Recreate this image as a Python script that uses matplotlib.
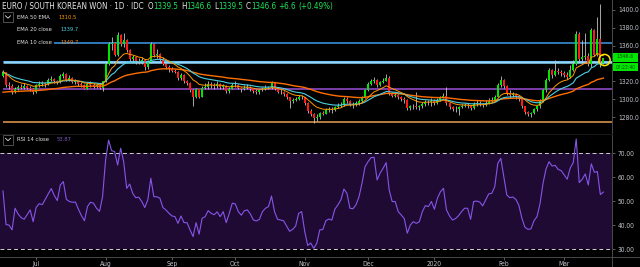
import numpy as np
import pandas as pd
import matplotlib
matplotlib.use("Agg")
import matplotlib.pyplot as plt
from matplotlib.patches import Rectangle, Circle
from matplotlib import font_manager as fm

_avail = {f.name for f in fm.fontManager.ttflist}
_cond = any(f.name == 'DejaVu Sans' and str(f.stretch) == 'condensed' for f in fm.fontManager.ttflist)
if 'Liberation Sans Narrow' in _avail:
    plt.rcParams['font.family'] = ['Liberation Sans Narrow', 'DejaVu Sans']
elif _cond:
    plt.rcParams['font.family'] = ['DejaVu Sans']
    plt.rcParams['font.stretch'] = 'condensed'
else:
    plt.rcParams['font.family'] = ['Roboto', 'DejaVu Sans']

# ---------------- data ----------------
dates = pd.bdate_range("2019-06-14", periods=200)
first_open = 1326.0
closes = [
    1330, 1316, 1315, 1309, 1311, 1314, 1313, 1315, 1313, 1312,
    1308, 1316, 1317, 1318, 1317, 1322, 1323, 1320, 1319, 1326,
    1328, 1322, 1324, 1319, 1320, 1317, 1316, 1312, 1317, 1316,
    1315, 1316, 1313, 1320, 1340, 1362, 1362.5, 1350, 1372, 1362,
    1366, 1355, 1345, 1347, 1343, 1342, 1344, 1336, 1342, 1362,
    1350, 1350.5, 1345, 1340, 1336, 1334, 1332, 1331, 1324, 1327,
    1320, 1318, 1310, 1303, 1311, 1303, 1313, 1314, 1317, 1316,
    1315, 1317, 1314, 1315, 1309, 1312, 1316, 1316.5, 1313, 1311,
    1313, 1313.5, 1311, 1309, 1308, 1310, 1311.5, 1312.5, 1313, 1318,
    1312, 1308.5, 1308, 1306, 1302, 1298, 1299, 1300, 1303, 1302.5,
    1296, 1287, 1284, 1279, 1280, 1285, 1284, 1288, 1289, 1288,
    1291, 1292.5, 1294, 1300, 1298, 1294, 1294.5, 1295.5, 1298, 1302,
    1310, 1317, 1320, 1322, 1316, 1319, 1321, 1324, 1307, 1304,
    1305, 1302, 1300, 1299, 1290, 1292, 1293, 1291, 1292, 1295,
    1297, 1296.5, 1298, 1296, 1299, 1302, 1304, 1296, 1291, 1289,
    1289.5, 1291, 1292.5, 1293.5, 1293, 1290, 1295, 1295.5, 1295, 1293.5,
    1296, 1298.5, 1299, 1303, 1316, 1322, 1315, 1307, 1305, 1305.5,
    1304, 1300, 1292, 1286, 1284, 1284.5, 1289, 1292, 1298, 1310,
    1322, 1333, 1327, 1332, 1330, 1329, 1327, 1325, 1333, 1340,
    1373, 1345, 1347, 1349, 1340, 1378, 1350, 1368, 1339.5, 1346.6,
]
highs = [
    1333, 1331, 1319, 1317, 1314, 1316, 1317, 1318, 1316, 1315,
    1313, 1317, 1320, 1321, 1319, 1324, 1326, 1324, 1322, 1328,
    1331, 1329, 1327, 1325, 1323, 1321, 1319, 1317, 1319, 1320,
    1318, 1318, 1317, 1321, 1342, 1364, 1370, 1364, 1375, 1373,
    1374, 1367, 1356, 1350, 1349, 1346, 1347, 1345, 1344, 1364,
    1363, 1356, 1352, 1347, 1341, 1338, 1336, 1334, 1332, 1329,
    1328, 1322, 1319, 1311, 1313, 1312, 1315, 1318, 1320, 1319,
    1318, 1320, 1318, 1317, 1316, 1314, 1318, 1320, 1317, 1314,
    1316, 1317, 1315, 1312, 1311, 1312, 1314, 1316, 1315, 1320,
    1319, 1313, 1311, 1309, 1307, 1303, 1301, 1303, 1305, 1305,
    1303, 1297, 1289, 1285, 1283, 1286, 1287, 1290, 1291, 1291,
    1293, 1296, 1297, 1302, 1302, 1299, 1297, 1298, 1300, 1304,
    1312, 1319, 1323, 1325, 1323, 1321, 1324, 1328, 1326, 1308,
    1308, 1306, 1304, 1302, 1300, 1294, 1295, 1308, 1294, 1297,
    1299, 1299, 1301, 1300, 1301, 1304, 1307, 1314, 1297, 1292,
    1292, 1293, 1295, 1296, 1296, 1294, 1297, 1299, 1298, 1296,
    1299, 1301, 1302, 1305, 1318, 1326, 1323, 1316, 1310, 1308,
    1307, 1305, 1301, 1293, 1287, 1286, 1290, 1294, 1300, 1311,
    1324, 1335, 1334, 1344, 1335, 1333, 1332, 1330, 1338, 1344,
    1376, 1375, 1366, 1374, 1352, 1380, 1379, 1392, 1407, 1346.6,
]
lows = [
    1325, 1314, 1312, 1306, 1307, 1310, 1311, 1312, 1311, 1309,
    1306, 1307, 1314, 1315, 1314, 1316, 1320, 1318, 1317, 1318,
    1324, 1320, 1321, 1318, 1317, 1315, 1314, 1311, 1311, 1314,
    1313, 1313, 1311, 1309, 1319, 1338, 1355, 1348, 1349, 1360,
    1358, 1353, 1343, 1342, 1340, 1339, 1340, 1333, 1334, 1341,
    1347, 1346, 1343, 1338, 1334, 1331, 1330, 1329, 1322, 1322,
    1318, 1316, 1308, 1293, 1301, 1301, 1302, 1311, 1312, 1313,
    1312, 1313, 1312, 1312, 1307, 1307, 1311, 1314, 1311, 1308,
    1310, 1311, 1309, 1307, 1306, 1306, 1309, 1310, 1311, 1312,
    1310, 1307, 1306, 1304, 1300, 1290, 1296, 1298, 1299, 1300,
    1294, 1285, 1281, 1273, 1276, 1278, 1282, 1283, 1286, 1285,
    1287, 1290, 1291, 1293, 1296, 1292, 1290, 1293, 1294, 1297,
    1301, 1309, 1316, 1318, 1314, 1315, 1318, 1320, 1305, 1302,
    1302, 1300, 1298, 1296, 1288, 1288, 1289, 1289, 1288, 1290,
    1293, 1294, 1292, 1294, 1295, 1298, 1301, 1294, 1289, 1287,
    1286, 1282, 1290, 1291, 1290, 1288, 1289, 1292, 1292, 1291,
    1292, 1295, 1297, 1298, 1302, 1314, 1313, 1305, 1301, 1302,
    1300, 1298, 1290, 1284, 1281, 1280, 1283, 1287, 1290, 1297,
    1308, 1320, 1324, 1326, 1328, 1326, 1325, 1323, 1324, 1332,
    1338, 1342, 1341, 1344, 1337, 1336, 1348, 1348, 1336, 1339.5,
]
rsi = [
    54.3, 40.3, 40.1, 38.1, 47.1, 44.7, 43.2, 42.5, 44.4, 46.4,
    41.5, 47.5, 49.0, 48.6, 50.8, 53.1, 55.3, 52.4, 50.3, 56.8,
    58.2, 50.8, 49.9, 49.6, 49.7, 46.7, 44.0, 41.9, 47.8, 49.6,
    49.2, 47.1, 45.8, 51.9, 67.2, 75.5, 71.1, 70.7, 65.1, 72.1,
    66.5, 55.4, 57.2, 53.3, 51.5, 51.7, 49.9, 47.4, 50.6, 59.6,
    51.9, 51.9, 51.3, 47.4, 46.4, 45.0, 43.9, 43.6, 40.8, 43.9,
    41.1, 41.1, 38.1, 35.3, 41.1, 36.3, 42.9, 43.6, 46.1, 45.0,
    44.4, 45.6, 43.6, 45.7, 41.1, 45.0, 49.2, 48.9, 45.7, 44.2,
    46.1, 46.4, 44.7, 42.2, 41.8, 42.5, 45.7, 47.1, 47.8, 52.2,
    45.7, 42.5, 42.2, 41.9, 39.7, 37.5, 38.3, 39.7, 45.0, 45.7,
    37.5, 31.6, 32.6, 30.4, 32.5, 38.1, 38.2, 41.9, 42.6, 42.2,
    46.7, 48.5, 50.6, 55.1, 53.3, 47.1, 46.9, 48.5, 51.9, 57.5,
    64.4, 66.5, 68.2, 68.3, 58.9, 61.7, 63.8, 66.1, 54.7, 49.9,
    49.9, 45.7, 44.3, 42.8, 36.7, 40.1, 41.5, 40.8, 41.5, 45.7,
    48.2, 47.8, 49.9, 46.7, 51.3, 54.0, 55.4, 46.4, 43.9, 42.2,
    42.8, 44.0, 45.7, 47.1, 47.1, 42.5, 49.9, 50.1, 49.7, 48.1,
    50.6, 53.1, 53.3, 56.1, 65.8, 67.9, 60.3, 52.6, 51.5, 51.8,
    50.8, 48.3, 42.9, 39.2, 38.3, 38.5, 41.9, 43.6, 49.0, 57.5,
    63.5, 66.5, 64.7, 65.0, 63.3, 62.8, 61.0, 59.2, 63.8, 66.1,
    76.0, 57.8, 59.2, 61.4, 56.8, 65.6, 62.1, 62.4, 52.8, 53.87,
]
ema_seed = {10: 1331.0, 20: 1330.0, 50: 1307.0}
level_prices = [1363.4, 1343.3, 1341.5, 1311.0, 1275.0]
level_start = [17, 0, 0, 0, 0]
level_colors = ['#3d9be9', '#1f6fd6', '#8fd8fb', '#9c4fd6', '#e8a050']
level_widths = [1.1, 0.8, 1.8, 1.1, 1.1]
price_ticks = [1280, 1300, 1320, 1340, 1360, 1380, 1400]
rsi_ticks = [30, 40, 50, 60, 70]

# ---------------- colours ----------------
BG = '#000000'
GREEN = '#00e600'
RED = '#ff1a1a'
WICK = '#c4c4c4'
AXTXT = '#c0c3cc'

# ---------------- figure / layout (pixel based) ----------------
W, H = 640, 267
fig = plt.figure(figsize=(W / 100, H / 100), dpi=100, facecolor=BG)
ax = fig.add_axes([0, 1 - 134 / H, 612 / W, 134 / H], facecolor=BG)
ax2 = fig.add_axes([0, 10 / H, 612 / W, 123 / H], facecolor=BG)
XL = (-0.994, 201.86)

n = len(closes)
x = np.arange(n)
c = np.array(closes, float)
o = np.r_[first_open, c[:-1]]
hi = np.maximum(np.array(highs, float), np.maximum(o, c))
lo = np.minimum(np.array(lows, float), np.minimum(o, c))
up = c >= o


def ema(vals, span, seed):
    a = 2.0 / (span + 1)
    e = seed
    out = []
    for v in vals:
        e = a * v + (1 - a) * e
        out.append(e)
    return np.array(out)


# horizontal drawn levels
for p, s, col, lw in zip(level_prices, level_start, level_colors, level_widths):
    ax.plot([s, XL[1]], [p, p], color=col, lw=lw, zorder=2, solid_capstyle='butt')

# candles
ax.vlines(x, lo, hi, color=WICK, lw=0.6, zorder=3)
body_b = np.minimum(o, c)
body_h = np.maximum(np.abs(c - o), 0.5)
ax.bar(x, body_h, bottom=body_b, width=0.66,
       color=np.where(up, GREEN, RED), lw=0, zorder=4)

# EMAs
ax.plot(x, ema(c, 50, ema_seed[50]), color='#ff6f00', lw=1.0, zorder=5)
ax.plot(x, ema(c, 20, ema_seed[20]), color='#4dd0e1', lw=0.8, zorder=5)
ax.plot(x, ema(c, 10, ema_seed[10]), color='#ff9800', lw=0.7, zorder=5)

ax.set_xlim(*XL)
ax.set_ylim(1261.07, 1411.2)
ax.set_xticks([])
ax.yaxis.tick_right()
ax.set_yticks(price_ticks)
# the 1340 label sits under the last-price marker, as in the reference
ax.set_yticklabels(['' if t == 1340 else f"{t:.1f}" for t in price_ticks])
ax.tick_params(axis='y', colors='#6a6a6a', labelcolor=AXTXT, labelsize=4.8,
               length=2.2, width=0.6, pad=2)
for sp in ax.spines.values():
    sp.set_visible(False)

# RSI pane
ax2.axhspan(30, 70, color='#1f0a33', lw=0, zorder=1)
ax2.axhline(70, color='#d0d0d0', lw=0.7, ls=(0, (4, 3)), zorder=2)
ax2.axhline(30, color='#d0d0d0', lw=0.7, ls=(0, (4, 3)), zorder=2)
ax2.plot(x, rsi, color='#8655e8', lw=0.8, zorder=3)
ax2.set_xlim(*XL)
ax2.set_ylim(26.79, 78.04)
ax2.yaxis.tick_right()
ax2.set_yticks(rsi_ticks)
ax2.set_yticklabels([f"{t:.2f}" for t in rsi_ticks])
month_idx = [i for i in range(1, n) if dates[i].month != dates[i - 1].month]
month_lab = ['2020' if dates[i].month == 1 else dates[i].strftime('%b') for i in month_idx]
ax2.set_xticks(month_idx)
ax2.set_xticklabels(month_lab)
ax2.tick_params(axis='both', colors='#6a6a6a', labelcolor=AXTXT, labelsize=4.8,
                length=2.2, width=0.6, pad=2)
ax2.tick_params(axis='x', pad=1.0)
for sp in ax2.spines.values():
    sp.set_visible(False)

# ---------------- overlay (pixel coords) ----------------
ov = fig.add_axes([0, 0, 1, 1], zorder=10)
ov.set_xlim(0, W)
ov.set_ylim(H, 0)
ov.axis('off')
ov.patch.set_alpha(0)

ov.plot([612, 612], [0, H], color='#4a4a4a', lw=0.7)
ov.plot([0, W], [257, 257], color='#4a4a4a', lw=0.7)
ov.plot([0, 612], [134, 134], color='#1a1a1a', lw=0.7)

renderer = fig.canvas.get_renderer()


def txt(xp, yp, s, color, size, **kw):
    return ov.text(xp, yp, s, color=color, fontsize=size, va='center', ha='left', **kw)


def width(t):
    return t.get_window_extent(renderer=renderer).width


def fit(xp, yp, s, wpx, color, size=6.0, **kw):
    t = txt(xp, yp, s, color, size, **kw)
    t.set_fontsize(size * wpx / width(t))
    return t


def seq(xp, yp, pieces, size):
    for s, col, gap in pieces:
        t = txt(xp, yp, s, col, size)
        xp += width(t) + gap
    return xp


WHITE = '#e8e8e8'
VAL = '#1fe35a'
t0 = fit(2, 6.3, "EURO / SOUTH KOREAN WON · 1D · IDC", 141, WHITE)
fs = t0.get_fontsize()
seq(148, 6.3, [('O', WHITE, 0), ('1339.5', VAL, 2.6), ('H', WHITE, 0), ('1346.6', VAL, 2.6),
               ('L', WHITE, 0), ('1339.5', VAL, 2.6), ('C', WHITE, 0), ('1346.6', VAL, 2.6),
               ('+6.6', VAL, 2.6), ('(+0.49%)', VAL, 0)], fs)

# legend
LEG = '#e2e2e2'
ov.add_patch(Rectangle((3, 12), 10, 10, fill=False, ec='#5a5a5a', lw=0.6))
ov.plot([5.5, 8, 10.5], [15.8, 18.2, 15.8], color='#e0e0e0', lw=0.6)
lf = fit(17, 17.3, "EMA 50 EMA", 33, LEG).get_fontsize()
txt(58, 17.3, "1310.5", '#ff9800', lf)
txt(17, 29.7, "EMA 20 close", LEG, lf)
txt(60, 29.7, "1339.7", '#4dd0e1', lf)
txt(17, 42.0, "EMA 10 close", LEG, lf)
txt(60, 42.0, "1349.7", '#f08c28', lf)

ov.add_patch(Rectangle((3, 134.5), 10, 10, fill=False, ec='#5a5a5a', lw=0.6))
ov.plot([5.5, 8, 10.5], [138.3, 140.7, 138.3], color='#e0e0e0', lw=0.6)
txt(17, 139.5, "RSI 14 close", LEG, lf)
txt(57, 139.5, "53.87", '#7e57c2', lf)

# last price labels
ov.add_patch(Rectangle((613, 53), 25, 8.5, color='#00e600', lw=0, zorder=5))
ov.add_patch(Rectangle((613, 63), 25, 8, color='#00e600', lw=0, zorder=5))
txt(616.5, 57.0, "1346.6", '#064d06', 4.0, zorder=6)
txt(615.5, 67.4, "07:22:40", '#064d06', 3.6, zorder=6)

# highlight circle on last candle
ov.add_patch(Circle((604.5, 60), 5.6, fill=False, ec='#ffe600', lw=1.1, zorder=7))

fig.savefig("out.png", dpi=100, facecolor=BG)
